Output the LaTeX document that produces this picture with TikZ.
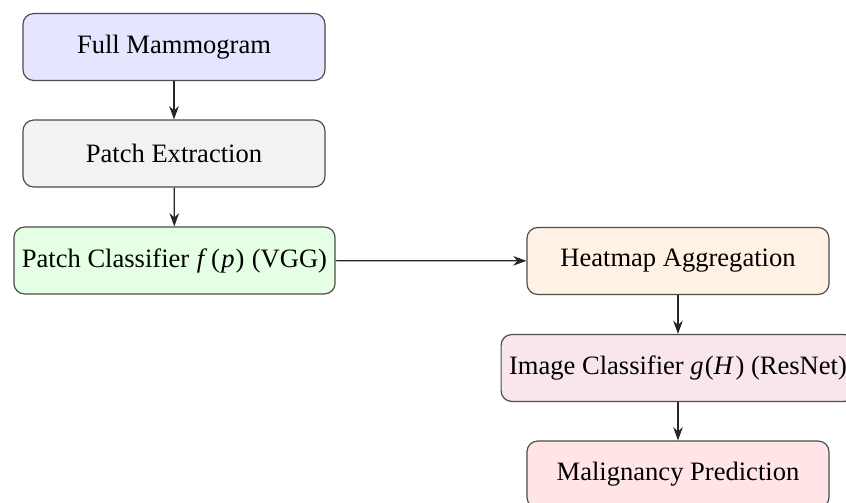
\documentclass[tikz,border=0pt]{standalone}
\usepackage{fontspec}
\setmainfont{Liberation Serif}
\usetikzlibrary{arrows.meta}
\begin{document}
\begin{tikzpicture}[x=0.3766pt,y=-0.3766pt,
  stage/.style={draw=black!70, line width=0.45pt, rounded corners=4pt,
    minimum width=113.7pt, minimum height=25.2pt, inner sep=3pt,
    font=\fontsize{10}{12}\selectfont},
  flow/.style={-{Stealth[length=5pt,width=3.6pt,inset=1.6pt]}, draw=black!85, line width=0.45pt}]
  \useasboundingbox (0,0) rectangle (846,503);
  \node[stage, fill=blue!10]   (mam)  at (174,47)    {Full Mammogram};
  \node[stage, fill=gray!10]   (ext)  at (174,153.5) {Patch Extraction};
  \node[stage, fill=green!10]  (pcl)  at (174.5,260.5) {Patch Classifier \kern0.4pt\textit{f}\kern1.4pt(\kern0.5pt\textit{p}\kern0.4pt) \kern0.3pt(VGG)};
  \node[stage, fill=orange!10] (heat) at (678,261)   {Heatmap Aggregation};
  \node[stage, fill=purple!10] (icl)  at (678,368)   {Image Classifier \textit{g}\kern0.4pt(\textit{H}\kern0.6pt) (ResNet)};
  \node[stage, fill=red!10]    (pred) at (678,474.5) {Malignancy Prediction};
  \draw[flow] (mam) -- (ext);
  \draw[flow] (ext) -- (pcl);
  \draw[flow] (pcl) -- (heat);
  \draw[flow] (heat) -- (icl);
  \draw[flow] (icl) -- (pred);
\end{tikzpicture}
\end{document}
